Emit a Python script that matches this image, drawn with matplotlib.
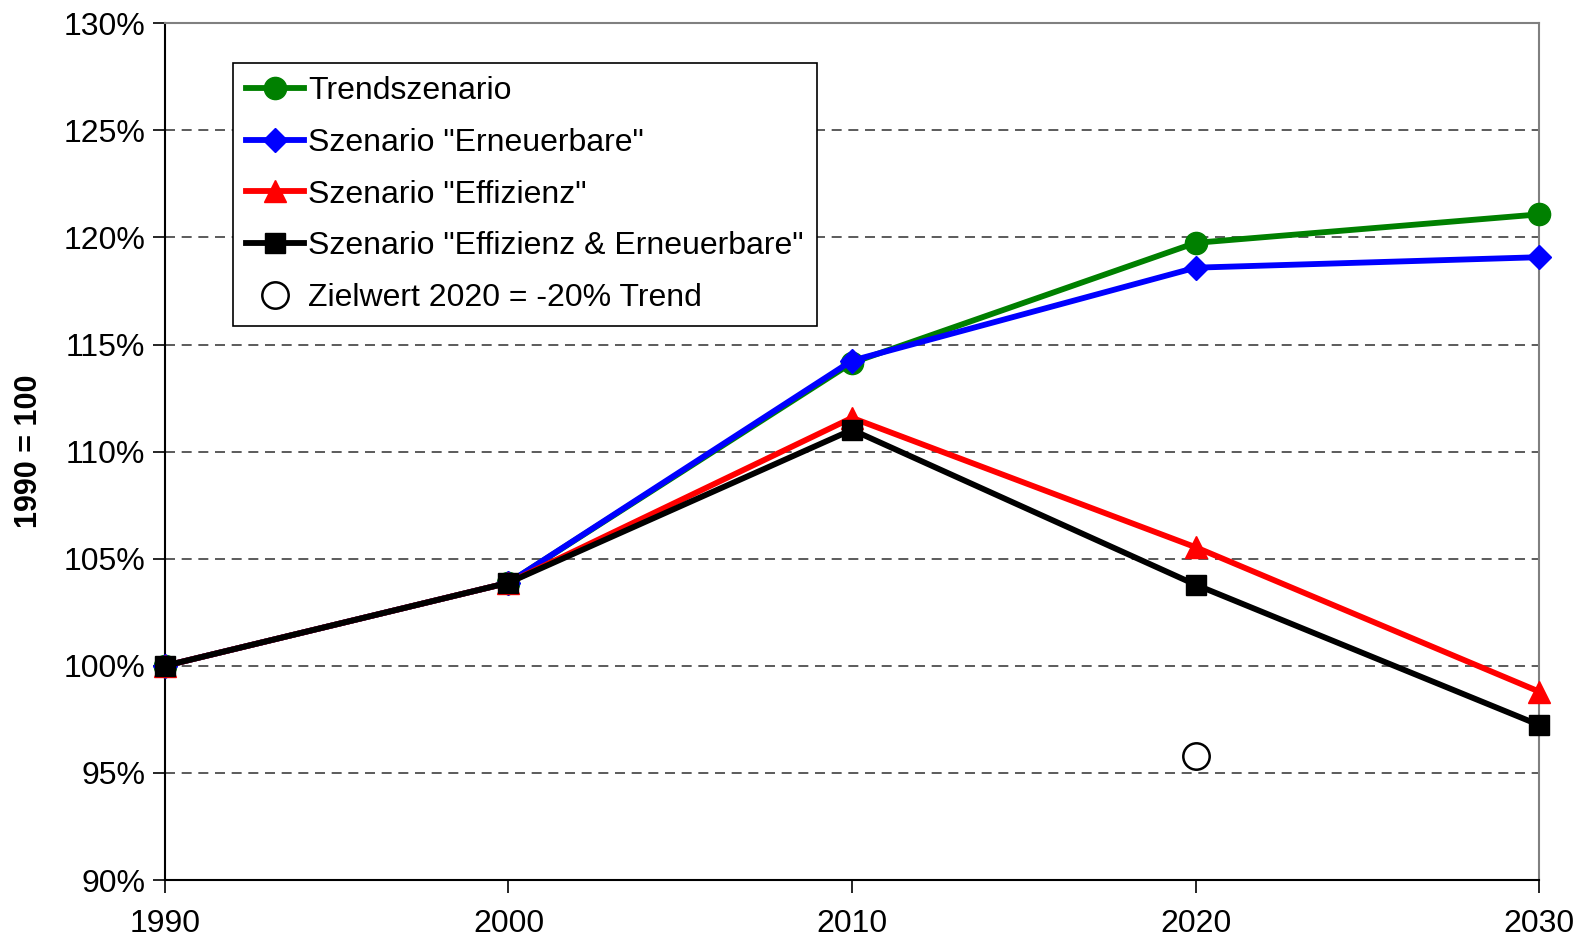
import matplotlib.pyplot as plt
from matplotlib.ticker import FuncFormatter

plt.rcParams['font.family'] = ['Liberation Sans', 'DejaVu Sans']

# Jahre und Indexwerte (1990 = 100 %)
jahre = [1990, 2000, 2010, 2020, 2030]
trend = [100.0, 103.88, 114.15, 119.75, 121.08]
erneuerbare = [100.0, 103.88, 114.25, 118.59, 119.08]
effizienz = [100.0, 103.88, 111.58, 105.54, 98.8]
eff_ern = [100.0, 103.88, 111.02, 103.79, 97.24]
zielwert_jahr = [2020]
zielwert = [95.8]

fig = plt.figure(figsize=(15.86, 9.4), dpi=100)
ax = fig.add_axes([0.1040, 0.0638, 0.8664, 0.9114])

ax.plot(jahre, trend, color='#008000', lw=4.2, marker='o', ms=16,
        label='Trendszenario', clip_on=False, zorder=3)
ax.plot(jahre, erneuerbare, color='#0000ff', lw=4.2, marker='D', ms=12,
        label='Szenario "Erneuerbare"', clip_on=False, zorder=4)
ax.plot(jahre, effizienz, color='#ff0000', lw=4.2, marker='^', ms=16,
        label='Szenario "Effizienz"', clip_on=False, zorder=5)
ax.plot(jahre, eff_ern, color='black', lw=4.2, marker='s', ms=15,
        label='Szenario "Effizienz & Erneuerbare"', clip_on=False, zorder=6)
ax.plot(zielwert_jahr, zielwert, ls='none', marker='o', ms=19, mfc='white',
        mec='black', mew=1.8, label='Zielwert 2020 = -20% Trend', zorder=7)

ax.set_xlim(1990, 2030)
ax.set_ylim(90, 130)
ax.set_xticks(jahre)
ax.set_yticks(range(90, 131, 5))
ax.yaxis.set_major_formatter(FuncFormatter(lambda v, p: f'{v:.0f}%'))
ax.tick_params(labelsize=23, direction='out', length=9, width=1.2, color='black')
ax.tick_params(axis='x', pad=12)
ax.tick_params(axis='y', pad=5)

for y in range(95, 130, 5):
    ax.axhline(y, color='#404040', lw=1.2, ls=(0, (6, 4)), zorder=1)

ax.spines['left'].set_color('black')
ax.spines['bottom'].set_color('black')
ax.spines['top'].set_color('#808080')
ax.spines['right'].set_color('#808080')
for s in ax.spines.values():
    s.set_linewidth(1.5)

ax.set_ylabel('1990 = 100', fontsize=22, fontweight='bold', labelpad=14)

leg = ax.legend(loc='upper left', bbox_to_anchor=(0.1467, 0.9333),
                bbox_transform=fig.transFigure, fontsize=23, frameon=True,
                fancybox=False, edgecolor='black', framealpha=1,
                borderaxespad=0, handlelength=1.8, handletextpad=0.15,
                labelspacing=0.68, borderpad=0.42)
leg.get_frame().set_linewidth(1.2)
leg.set_zorder(10)

fig.savefig('out.png', dpi=100)
